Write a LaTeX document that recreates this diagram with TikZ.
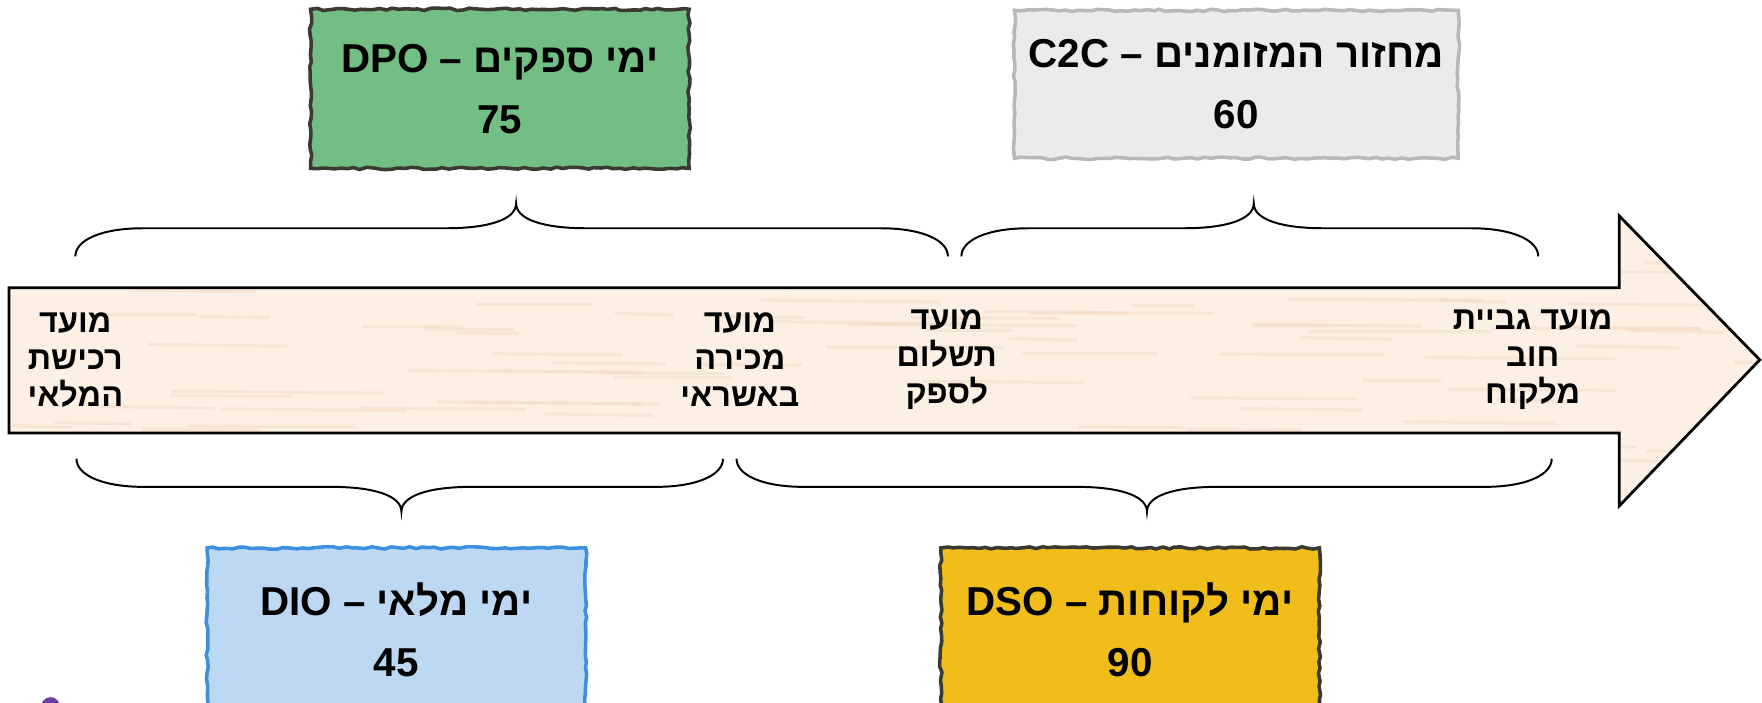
\documentclass[tikz,border=0pt]{standalone}
\usepackage{fontspec}
\setmainfont{Liberation Sans}
\newfontfamily\hebf[Script=Hebrew]{Liberation Sans}
\TeXXeTstate=1
\usetikzlibrary{decorations.pathmorphing}
\newcommand\heb[1]{{\hebf\beginR #1\endR}}
\definecolor{woodbase}{HTML}{FCF0E4}
\definecolor{woodstreak}{HTML}{F2DCC8}
\definecolor{dpofill}{HTML}{72BE84}
\definecolor{c2cfill}{HTML}{EBEBEB}
\definecolor{c2cline}{HTML}{B8B8B8}
\definecolor{diofill}{HTML}{BCD8F2}
\definecolor{dioline}{HTML}{3D8FE0}
\definecolor{dsofill}{HTML}{F0BD1B}
\definecolor{darkline}{HTML}{3A3A32}
\definecolor{blob}{HTML}{6B3FA0}
\tikzset{
  braceline/.style={draw=black, line width=0.5pt},
  metric/.style={minimum width=3.35cm, minimum height=1.40cm, inner sep=0pt, align=center,
     font=\bfseries\fontsize{10.2}{15.4}\selectfont},
  ragged/.style={decorate, decoration={random steps, segment length=1.6pt, amplitude=0.3pt}, line width=0.9pt},
  milestone/.style={align=center, font=\bfseries\fontsize{8.2}{9.4}\selectfont, inner sep=0pt},
  streak/.style={draw=woodstreak, line width=0.8pt, opacity=0.5},
}
\newcommand\arrowpath{(8,256) -- (1440,256) -- (1440,192) -- (1565,320) -- (1440,450) -- (1440,385) -- (8,385) -- cycle}
\newcommand\drawbrace[5]{%
  \pgfmathsetmacro\bEa{#4-#5*14}%
  \pgfmathsetmacro\bF{#4-#5*25}%
  \pgfmathsetmacro\bC{#4-#5*33}%
  \pgfmathsetmacro\bT{#4-#5*47}%
  \pgfmathsetmacro\xa{#1+22}\pgfmathsetmacro\xb{#1+60}%
  \pgfmathsetmacro\xc{#3-62}\pgfmathsetmacro\xd{#3-24}%
  \pgfmathsetmacro\xe{#3+24}\pgfmathsetmacro\xf{#3+62}%
  \pgfmathsetmacro\xg{#2-60}\pgfmathsetmacro\xh{#2-22}%
  \draw[braceline] (#1,#4) .. controls (#1,\bEa) and (\xa,\bF) .. (\xb,\bF)
    -- (\xc,\bF) .. controls (\xd,\bF) and (#3,\bC) .. (#3,\bT)
    .. controls (#3,\bC) and (\xe,\bF) .. (\xf,\bF)
    -- (\xg,\bF) .. controls (\xh,\bF) and (#2,\bEa) .. (#2,#4);}
\begin{document}
\begin{tikzpicture}[x=0.01cm, y=-0.01cm]
\pgfmathsetseed{7}
\path[use as bounding box, clip] (0,0) rectangle (1567,625);
\fill[white] (0,0) rectangle (1567,625);

% timeline arrow
\fill[woodbase] \arrowpath;
\begin{scope}
  \clip \arrowpath;
  \foreach \i in {1,...,160} {
    \pgfmathsetmacro\xx{rnd*1560}
    \pgfmathsetmacro\yy{190+rnd*262}
    \pgfmathsetmacro\ll{40+rnd*150}
    \pgfmathsetmacro\xe{\xx+\ll}
    \pgfmathsetmacro\ye{\yy+rnd*2}
    \draw[streak] (\xx,\yy) -- (\xe,\ye);
  }
\end{scope}
\draw[black, line width=0.7pt, line join=miter] \arrowpath;

% milestones
\node[milestone] (buy) at (67,320) {\heb{מועד}\\ \heb{רכישת}\\ \heb{המלאי}};
\node[milestone] (sell) at (658,320) {\heb{מועד}\\ \heb{מכירה}\\ \heb{באשראי}};
\node[milestone] (pay) at (842,320) {\heb{מועד}\\ \heb{תשלום}\\ \heb{לספק}};
\node[milestone] (collect) at (1363,320) {\heb{מועד גביית}\\ \heb{חוב}\\ \heb{מלקוח}};

% braces
\drawbrace{67}{843}{459}{228}{1}
\drawbrace{855}{1368}{1115}{228}{1}
\drawbrace{68}{643}{357}{408}{-1}
\drawbrace{655}{1380}{1020}{408}{-1}

% metric boxes
\node[metric, fill=dpofill] (dpo) at (444.5,79) {\heb{ימי ספקים – \beginL DPO\endL}\\ 75};
\draw[ragged, draw=darkline] (dpo.south west) rectangle (dpo.north east);

\node[metric, fill=c2cfill, minimum width=3.93cm, minimum height=1.30cm] (c2c) at (1099.5,75) {\heb{מחזור המזומנים – \beginL C2C\endL}\\ 60};
\draw[ragged, draw=c2cline] (c2c.south west) rectangle (c2c.north east);

\node[metric, fill=diofill, minimum height=1.44cm] (dio) at (352.5,560) {\heb{ימי מלאי – \beginL DIO\endL}\\ 45};
\draw[ragged, draw=dioline] (dio.south west) rectangle (dio.north east);

\node[metric, fill=dsofill, minimum height=1.44cm] (dso) at (1005,560) {\heb{ימי לקוחות – \beginL DSO\endL}\\ 90};
\draw[ragged, draw=darkline] (dso.south west) rectangle (dso.north east);

% cropped purple mark at the bottom edge
\fill[blob] (45,630) ellipse (9 and 10);
\end{tikzpicture}
\end{document}
